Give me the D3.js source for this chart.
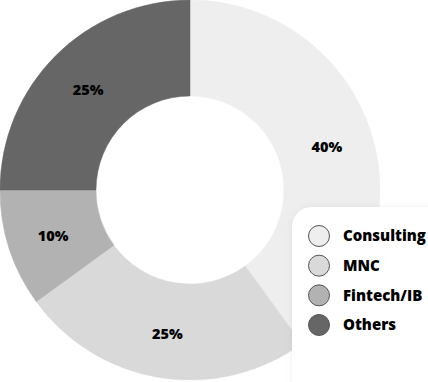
<!DOCTYPE html>
<html><head><meta charset="utf-8">
<script src="https://cdn.jsdelivr.net/npm/d3@7"></script>
<style>html,body{margin:0;padding:0;background:#fff;overflow:hidden}svg{display:block}</style>
</head><body>
<svg id="chart" width="428" height="382"></svg>
<script>
const categories = ["Consulting", "MNC", "Fintech/IB", "Others"];
const values = [40, 25, 10, 25];
const labels = ["40%", "25%", "10%", "25%"];
const colors = ["#eeeeee", "#d9d9d9", "#b2b2b2", "#666666"];

const svg = d3.select("#chart");
const cx = 190, cy = 190, outerR = 190, innerR = 94;

const pie = d3.pie().sort(null).value(d => d.v);
const data = categories.map((c, i) => ({c, v: values[i], l: labels[i], col: colors[i]}));
const arcs = pie(data);
const arc = d3.arc().innerRadius(innerR).outerRadius(outerR);
const labelArc = d3.arc().innerRadius(144).outerRadius(144);

const g = svg.append("g").attr("transform", `translate(${cx},${cy})`);
g.selectAll("path").data(arcs).join("path")
  .attr("d", arc)
  .attr("fill", d => d.data.col)
  .attr("stroke", d => d.data.col)
  .attr("stroke-width", 0.5);

g.selectAll("text").data(arcs).join("text")
  .attr("transform", d => `translate(${labelArc.centroid(d)})`)
  .attr("text-anchor", "middle")
  .attr("dy", "0.45em")
  .attr("font-family", "'Open Sans', sans-serif")
  .attr("font-weight", 800)
  .attr("font-size", 14.5)
  .attr("fill", "#000")
  .text(d => d.data.l);

// legend panel
const defs = svg.append("defs");
const f = defs.append("filter").attr("id", "sh").attr("x", "-20%").attr("y", "-20%").attr("width", "140%").attr("height", "140%");
f.append("feDropShadow").attr("dx", 0).attr("dy", 0).attr("stdDeviation", 3).attr("flood-color", "#000").attr("flood-opacity", 0.06);

const lg = svg.append("g");
lg.append("rect").attr("x", 292).attr("y", 207).attr("width", 200).attr("height", 220)
  .attr("rx", 20).attr("fill", "#fff").attr("filter", "url(#sh)");

const ly = d3.scalePoint().domain(categories).range([236, 325]);
const items = lg.selectAll("g.item").data(data).join("g").attr("class", "item")
  .attr("transform", d => `translate(319,${ly(d.c)})`);
items.append("circle").attr("r", 10.5).attr("fill", d => d.col).attr("stroke", "#555").attr("stroke-width", 1);
items.append("text").attr("x", 24).attr("dy", "0.36em")
  .attr("font-family", "'Open Sans', sans-serif").attr("font-weight", 800).attr("font-size", 15)
  .attr("fill", "#000").text(d => d.c);
</script>
</body></html>
